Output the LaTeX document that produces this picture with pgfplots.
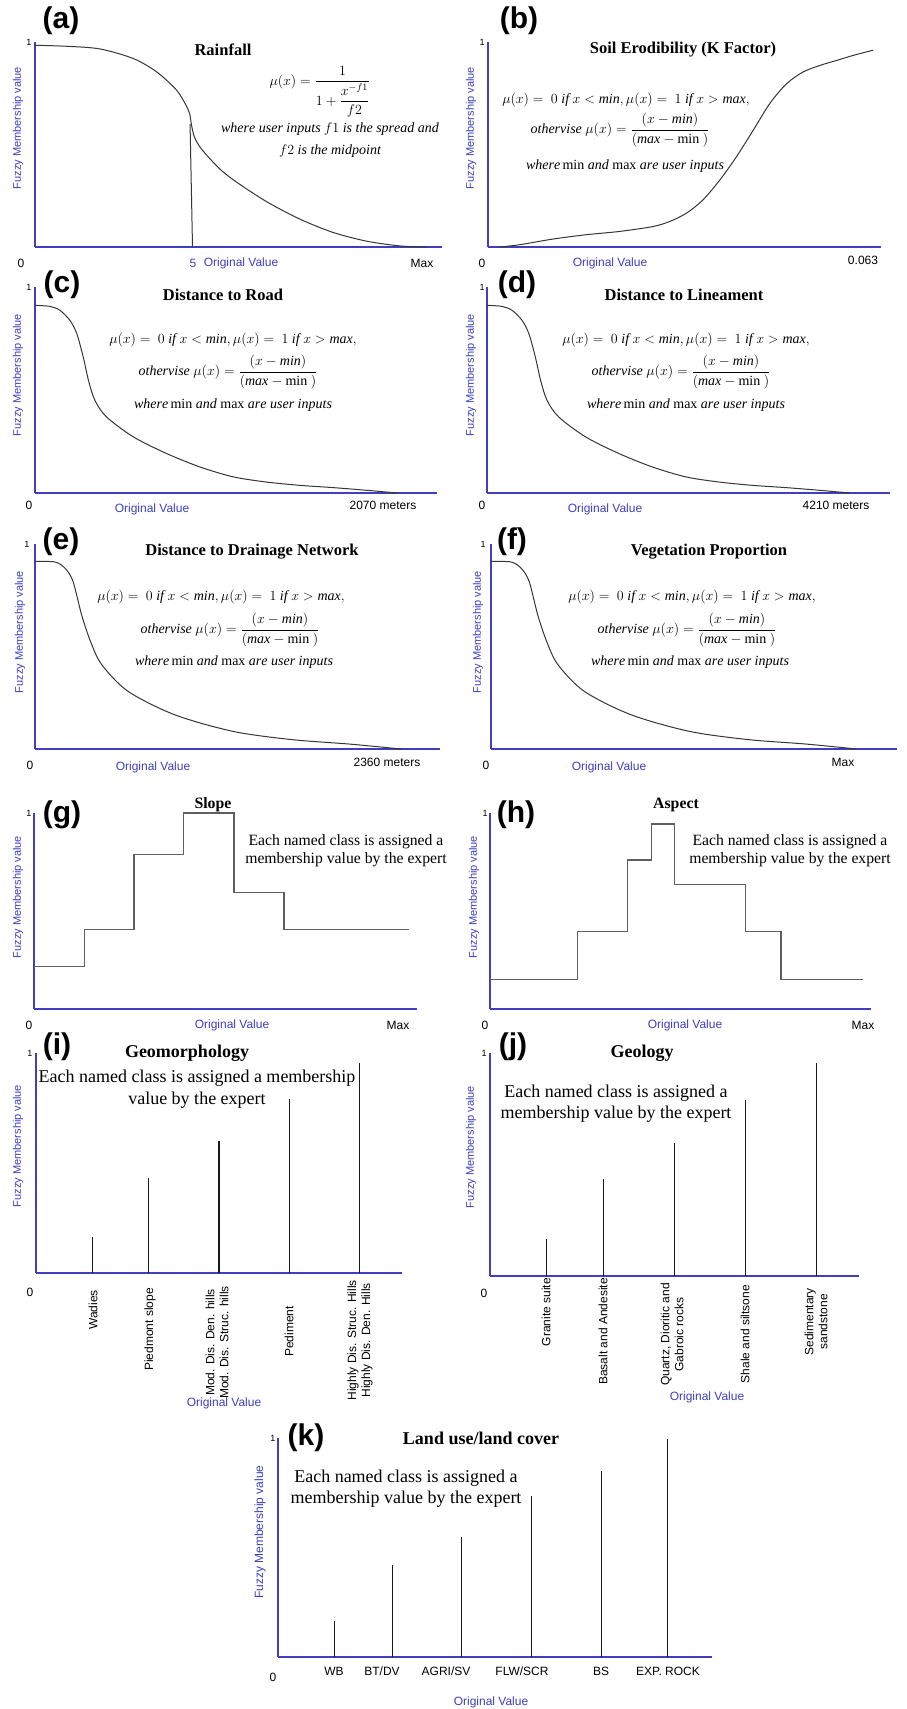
\RequirePackage{fix-cm}
\documentclass[border=0pt]{standalone}
\usepackage{amsmath}
\usepackage{fontspec}
\setmainfont{Liberation Serif}
\newfontfamily\arial{Liberation Sans}
\usepackage{pgfplots}
\pgfplotsset{compat=1.18}
\definecolor{axblue}{RGB}{63,63,191}
\definecolor{crv}{RGB}{55,55,55}
\definecolor{stp}{RGB}{95,95,95}
\pgfplotsset{
  fz/.style={scale only axis, axis lines*=left, xmin=0,xmax=1,ymin=0,ymax=1,
    ticks=none, clip=false, anchor=south west,
    axis line style={draw=axblue, line width=1.8pt}},
  cv/.style={crv, line width=1pt, smooth, tension=0.5, no marks},
  st/.style={stp, line width=1.3pt, no marks},
  stem/.style={ycomb, black!90, line width=1.2pt, no marks},
}
\tikzset{
 lab/.style={font=\arial\fontsize{12}{14}\selectfont, text=axblue, inner sep=0pt},
 tk/.style={font=\arial\fontsize{12}{14}\selectfont, inner sep=0pt},
 one/.style={font=\arial\fontsize{9}{10}\selectfont, inner sep=0pt},
 ylab/.style={font=\arial\fontsize{11}{13}\selectfont, text=axblue, rotate=90, inner sep=0pt},
 pan/.style={font=\arial\bfseries\fontsize{30}{32}\selectfont, inner sep=0pt},
 ttl/.style={font=\bfseries\fontsize{16.5}{18}\selectfont, inner sep=0pt},
 fm/.style={font=\fontsize{14}{16}\selectfont, inner sep=0pt},
 ex/.style={font=\fontsize{18}{21}\selectfont, inner sep=0pt, align=center},
 exs/.style={font=\fontsize{15.7}{18}\selectfont, inner sep=0pt, align=center},
 cat/.style={font=\arial\fontsize{12}{14}\selectfont, rotate=90, anchor=east, align=center, inner sep=0pt},
 hcat/.style={font=\arial\fontsize{12}{14}\selectfont, inner sep=0pt},
}
\newcommand{\fA}{$\mu(x) =\ 0\ \mathit{if}\ x < \mathit{min}, \mu(x) =\ 1\ \mathit{if}\ x > \mathit{max},$}
\newcommand{\fB}{$\mathit{othervise}\ \mu(x) = \dfrac{(x-\mathit{min})}{(\mathit{max}-\mathrm{min}\ )}$}
\newcommand{\fC}{$\mathit{where}\,\mathrm{min}\ \mathit{and}\ \mathrm{max}\ \mathit{are\ user\ inputs}$}
\newcommand{\exA}{Each named class is assigned a\\membership value by the expert}
\begin{document}
\begin{tikzpicture}
\path[use as bounding box, fill=white] (0pt,0pt) rectangle (906pt,-1709pt);

% ---------- (a) Rainfall
\begin{axis}[fz, at={(35pt,-247pt)}, width=407pt, height=205pt]
\addplot[cv] coordinates {(0,0.984) (0.08,0.979) (0.16,0.966) (0.242,0.919) (0.299,0.854) (0.348,0.765) (0.373,0.684) (0.381,0.643)};
\addplot[cv] coordinates {(0.381,0.643) (0.385,0.59) (0.392,0.535) (0.406,0.486) (0.43,0.43) (0.46,0.37) (0.5,0.31) (0.57,0.22) (0.652,0.135) (0.734,0.07) (0.816,0.028) (0.898,0.005) (0.963,0)};
\addplot[crv, line width=1pt, no marks] coordinates {(0.381,0.6) (0.387,0)};
\end{axis}
\node[pan] at (61pt,-21pt) {(a)};
\node[one] at (29pt,-42pt) {1};
\node[ylab] at (18pt,-128pt) {Fuzzy Membership value};
\node[tk] at (21pt,-263pt) {0};
\node[lab] at (193pt,-263pt) {5};
\node[lab] at (241pt,-263pt) {Original Value};
\node[tk] at (422pt,-263pt) {Max};
\node[ttl] at (223pt,-50pt) {Rainfall};
\node[fm] at (320pt,-92pt) {$\mu(x) = \dfrac{1}{1+\dfrac{x^{-f1}}{f2}}$};
\node[fm] at (330pt,-129pt) {$\mathit{where\ user\ inputs}\ f1\ \mathit{is\ the\ spread\ and}$};
\node[fm] at (330pt,-151pt) {$f2\ \mathit{is\ the\ midpoint}$};

% ---------- (b) Soil erodibility
\begin{axis}[fz, at={(488pt,-247pt)}, width=393pt, height=205pt]
\addplot[cv] coordinates {(0.03,0) (0.08,0.011) (0.166,0.039) (0.25,0.06) (0.335,0.076) (0.42,0.1) (0.463,0.125) (0.505,0.165) (0.547,0.23) (0.59,0.327) (0.632,0.44) (0.675,0.57) (0.717,0.7) (0.76,0.797) (0.802,0.854) (0.845,0.886) (0.887,0.91) (0.93,0.935) (0.98,0.96)};
\end{axis}
\node[pan] at (519pt,-21pt) {(b)};
\node[one] at (482pt,-42pt) {1};
\node[ylab] at (471pt,-128pt) {Fuzzy Membership value};
\node[tk] at (482pt,-263pt) {0};
\node[lab] at (610pt,-263pt) {Original Value};
\node[tk] at (863pt,-260pt) {0.063};
\node[ttl] at (683pt,-50pt) {Soil Erodibility (K Factor)};
\node[fm] at (626pt,-100pt) {\fA};
\node[fm] at (620pt,-130pt) {\fB};
\node[fm] at (625pt,-166pt) {\fC};

% ---------- (c) Distance to road
\begin{axis}[fz, at={(35pt,-493pt)}, width=402pt, height=206pt]
\addplot[cv] coordinates {(0,0.911) (0.037,0.906) (0.062,0.887) (0.087,0.838) (0.104,0.773) (0.12,0.66) (0.133,0.547) (0.149,0.45) (0.178,0.369) (0.245,0.272) (0.328,0.191) (0.411,0.126) (0.494,0.078) (0.577,0.053) (0.66,0.037) (0.743,0.026) (0.826,0.013) (0.9,0)};
\end{axis}
\node[pan] at (62pt,-285pt) {(c)};
\node[one] at (29pt,-287pt) {1};
\node[ylab] at (18pt,-375pt) {Fuzzy Membership value};
\node[tk] at (29pt,-505pt) {0};
\node[lab] at (152pt,-509pt) {Original Value};
\node[tk] at (383pt,-505pt) {2070 meters};
\node[ttl] at (223pt,-295pt) {Distance to Road};
\node[fm] at (233pt,-340pt) {\fA};
\node[fm] at (228pt,-372pt) {\fB};
\node[fm] at (233pt,-405pt) {\fC};

% ---------- (d) Distance to lineament
\begin{axis}[fz, at={(487pt,-493pt)}, width=403pt, height=206pt]
\addplot[cv] coordinates {(0,0.911) (0.037,0.906) (0.062,0.887) (0.087,0.838) (0.104,0.773) (0.12,0.66) (0.133,0.547) (0.149,0.45) (0.178,0.369) (0.245,0.272) (0.328,0.191) (0.411,0.126) (0.494,0.078) (0.577,0.053) (0.66,0.037) (0.743,0.026) (0.826,0.013) (0.9,0)};
\end{axis}
\node[pan] at (517pt,-285pt) {(d)};
\node[one] at (482pt,-287pt) {1};
\node[ylab] at (471pt,-375pt) {Fuzzy Membership value};
\node[tk] at (482pt,-505pt) {0};
\node[lab] at (605pt,-509pt) {Original Value};
\node[tk] at (836pt,-505pt) {4210 meters};
\node[ttl] at (684pt,-295pt) {Distance to Lineament};
\node[fm] at (686pt,-340pt) {\fA};
\node[fm] at (681pt,-372pt) {\fB};
\node[fm] at (686pt,-405pt) {\fC};

% ---------- (e) Distance to drainage
\begin{axis}[fz, at={(35pt,-749pt)}, width=405pt, height=205pt]
\addplot[cv] coordinates {(0,0.915) (0.05,0.912) (0.075,0.88) (0.094,0.817) (0.115,0.655) (0.137,0.525) (0.165,0.411) (0.23,0.281) (0.345,0.167) (0.489,0.086) (0.633,0.046) (0.777,0.024) (0.904,0)};
\end{axis}
\node[pan] at (61pt,-542pt) {(e)};
\node[one] at (27pt,-544pt) {1};
\node[ylab] at (20pt,-632pt) {Fuzzy Membership value};
\node[tk] at (30pt,-765pt) {0};
\node[lab] at (153pt,-767pt) {Original Value};
\node[tk] at (387pt,-762pt) {2360 meters};
\node[ttl] at (252pt,-552pt) {Distance to Drainage Network};
\node[fm] at (221pt,-597pt) {\fA};
\node[fm] at (230pt,-630pt) {\fB};
\node[fm] at (234pt,-662pt) {\fC};

% ---------- (f) Vegetation proportion
\begin{axis}[fz, at={(491pt,-749pt)}, width=406pt, height=205pt]
\addplot[cv] coordinates {(0,0.915) (0.05,0.912) (0.075,0.88) (0.094,0.817) (0.115,0.655) (0.137,0.525) (0.165,0.411) (0.23,0.281) (0.345,0.167) (0.489,0.086) (0.633,0.046) (0.777,0.024) (0.9,0)};
\end{axis}
\node[pan] at (512pt,-542pt) {(f)};
\node[one] at (483pt,-544pt) {1};
\node[ylab] at (478pt,-632pt) {Fuzzy Membership value};
\node[tk] at (486pt,-765pt) {0};
\node[lab] at (609pt,-767pt) {Original Value};
\node[tk] at (843pt,-762pt) {Max};
\node[ttl] at (709pt,-552pt) {Vegetation Proportion};
\node[fm] at (692pt,-597pt) {\fA};
\node[fm] at (687pt,-630pt) {\fB};
\node[fm] at (690pt,-662pt) {\fC};

% ---------- (g) Slope
\begin{axis}[fz, at={(34pt,-1009pt)}, width=383pt, height=196pt]
\addplot[st] coordinates {(0,0.216) (0.131,0.216) (0.131,0.407) (0.261,0.407) (0.261,0.79) (0.391,0.79) (0.391,1) (0.522,1) (0.522,0.596) (0.653,0.596) (0.653,0.407) (0.978,0.407)};
\end{axis}
\node[pan] at (62pt,-815pt) {(g)};
\node[one] at (29pt,-813pt) {1};
\node[ylab] at (18pt,-897pt) {Fuzzy Membership value};
\node[tk] at (29pt,-1025pt) {0};
\node[lab] at (232pt,-1025pt) {Original Value};
\node[tk] at (398pt,-1025pt) {Max};
\node[font=\bfseries\fontsize{15.8}{18}\selectfont, inner sep=0pt] at (213pt,-805pt) {Slope};
\node[exs] at (346pt,-851pt) {\exA};

% ---------- (h) Aspect
\begin{axis}[fz, at={(490pt,-1009pt)}, width=381pt, height=196pt]
\addplot[st] coordinates {(0,0.152) (0.23,0.152) (0.23,0.395) (0.361,0.395) (0.361,0.761) (0.424,0.761) (0.424,0.944) (0.485,0.944) (0.485,0.637) (0.671,0.637) (0.671,0.395) (0.764,0.395) (0.764,0.152) (0.98,0.152)};
\end{axis}
\node[pan] at (516pt,-815pt) {(h)};
\node[one] at (485pt,-813pt) {1};
\node[ylab] at (474pt,-897pt) {Fuzzy Membership value};
\node[tk] at (485pt,-1025pt) {0};
\node[lab] at (685pt,-1025pt) {Original Value};
\node[tk] at (863pt,-1025pt) {Max};
\node[font=\bfseries\fontsize{15.8}{18}\selectfont, inner sep=0pt] at (676pt,-805pt) {Aspect};
\node[exs] at (790pt,-851pt) {\exA};

% ---------- (i) Geomorphology
\begin{axis}[fz, at={(36pt,-1273pt)}, width=366pt, height=220pt]
\addplot[stem] coordinates {(0.155,0.163) (0.308,0.434) (0.5,0.6) (0.692,0.79) (0.884,0.956)};
\end{axis}
\node[pan] at (57pt,-1047pt) {(i)};
\node[one] at (30pt,-1053pt) {1};
\node[ylab] at (18pt,-1146pt) {Fuzzy Membership value};
\node[tk] at (30pt,-1292pt) {0};
\node[lab] at (224pt,-1403pt) {Original Value};
\node[font=\bfseries\fontsize{18}{20}\selectfont, inner sep=0pt] at (187pt,-1053pt) {Geomorphology};
\node[font=\fontsize{18}{22}\selectfont, inner sep=0pt, align=center] at (197pt,-1089pt) {Each named class is assigned a membership\\value by the expert};
\node[cat] at (93pt,-1290pt) {Wadies};
\node[cat] at (150pt,-1288pt) {Piedmont slope};
\node[cat] at (217pt,-1286pt) {Mod. Dis. Den. hills\\Mod. Dis. Struc. hills};
\node[cat] at (289pt,-1306pt) {Pediment};
\node[cat] at (360pt,-1280pt) {Highly Dis. Struc. Hills\\Highly Dis. Den. Hills};

% ---------- (j) Geology
\begin{axis}[fz, at={(490pt,-1276pt)}, width=369pt, height=223pt]
\addplot[stem] coordinates {(0.153,0.164) (0.308,0.433) (0.499,0.598) (0.692,0.791) (0.884,0.955)};
\end{axis}
\node[pan] at (513pt,-1047pt) {(j)};
\node[one] at (484pt,-1053pt) {1};
\node[ylab] at (471pt,-1147pt) {Fuzzy Membership value};
\node[tk] at (484pt,-1293pt) {0};
\node[lab] at (707pt,-1397pt) {Original Value};
\node[font=\bfseries\fontsize{18}{20}\selectfont, inner sep=0pt] at (642pt,-1053pt) {Geology};
\node[ex] at (616pt,-1103.5pt) {\exA};
\node[cat] at (546pt,-1278pt) {Granite suite};
\node[cat] at (603pt,-1278pt) {Basalt and Andesite};
\node[cat] at (672pt,-1283pt) {Quartz, Dioritic and\\Gabroic rocks};
\node[cat] at (745pt,-1285pt) {Shale and siltsone};
\node[cat] at (816pt,-1288pt) {Sedimentary\\sandstone};

% ---------- (k) Land use / land cover
\begin{axis}[fz, at={(278pt,-1657pt)}, width=434pt, height=219pt]
\addplot[stem] coordinates {(0.131,0.164) (0.263,0.418) (0.423,0.55) (0.584,0.736) (0.745,0.85) (0.897,0.995)};
\end{axis}
\node[pan] at (306pt,-1438pt) {(k)};
\node[one] at (273pt,-1438pt) {1};
\node[ylab, font=\arial\fontsize{12}{14}\selectfont] at (260pt,-1532pt) {Fuzzy Membership value};
\node[tk] at (273pt,-1677pt) {0};
\node[lab] at (491pt,-1702pt) {Original Value};
\node[font=\bfseries\fontsize{18}{20}\selectfont, inner sep=0pt] at (481pt,-1438pt) {Land use/land cover};
\node[ex] at (406pt,-1488.5pt) {\exA};
\node[hcat] at (334pt,-1671pt) {WB};
\node[hcat] at (382pt,-1671pt) {BT/DV};
\node[hcat] at (446pt,-1671pt) {AGRI/SV};
\node[hcat] at (522pt,-1671pt) {FLW/SCR};
\node[hcat] at (601pt,-1671pt) {BS};
\node[hcat] at (668pt,-1671pt) {EXP. ROCK};
\end{tikzpicture}
\end{document}
